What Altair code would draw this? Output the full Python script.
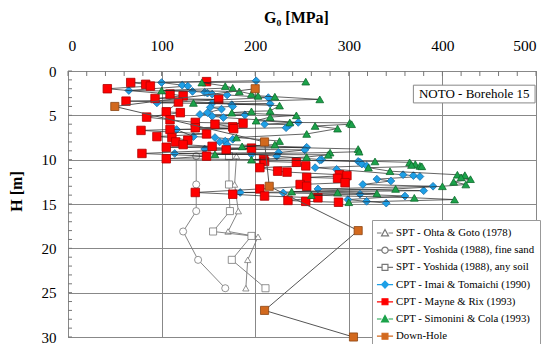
import altair as alt
import pandas as pd

# ---------------- data ----------------
series_names = [
    "SPT - Ohta & Goto (1978)",
    "SPT - Yoshida (1988), fine sand",
    "SPT - Yoshida (1988), any soil",
    "CPT - Imai & Tomaichi (1990)",
    "CPT - Mayne & Rix (1993)",
    "CPT - Simonini & Cola (1993)",
    "Down-Hole",
]

# SPT - Ohta & Goto (open triangles)
H_og = [9.6, 12.8, 15.8, 18.1, 18.7, 21.3, 24.5]
G_og = [180, 178, 182, 171, 203, 192, 190]
# SPT - Yoshida fine sand (open circles)
H_yf = [9.6, 12.8, 15.8, 18.1, 21.3, 24.5]
G_yf = [137, 137, 137, 123, 139, 168]
# SPT - Yoshida any soil (open squares)
H_ya = [9.6, 12.8, 15.8, 18.1, 18.6, 21.3, 24.5]
G_ya = [172, 172, 173, 155, 196, 175, 211]

# CPT - Imai & Tomaichi (blue diamonds)
H_it = [1.1, 1.3, 1.6, 1.7, 2.2, 2.3, 2.4, 2.5, 2.6, 2.7, 3.0, 3.6, 3.65, 3.7, 3.8,
        4.0, 4.1, 4.3, 4.7, 4.9, 4.95, 5.1, 5.25, 5.8, 6.0, 6.05, 6.4, 6.6, 7.4, 7.5,
        7.7, 7.9, 8.0, 8.3, 8.6, 8.8, 8.9, 9.2, 9.3, 9.4, 9.6, 10.0, 10.05, 10.2, 10.3,
        10.5, 10.7, 10.9, 11.1, 11.7, 11.8, 11.9, 12.2, 12.4, 12.8, 13.0, 13.3, 13.5,
        13.7, 13.75, 13.9, 14.1, 14.5, 14.7, 14.9]
G_it = [201, 100, 122, 128, 65, 133, 146, 149, 154, 170, 214, 95, 154, 216, 175,
        176, 152, 164, 149, 141, 189, 154, 166, 246, 210, 237, 233, 116, 134, 157,
        176, 168, 162, 170, 255, 146, 253, 225, 114, 196, 223, 271, 269, 310, 312,
        314, 319, 264, 287, 358, 369, 376, 330, 345, 315, 390, 267, 380,
        184, 230, 312, 360, 299, 319, 340]

# CPT - Mayne & Rix (red squares)
H_mr = [1.2, 1.3, 1.5, 1.7, 2.0, 2.6, 2.8, 3.1, 3.2, 3.4, 3.5, 4.6, 4.7, 5.2, 5.5,
        5.8, 5.9, 6.0, 6.3, 6.4, 6.5, 6.6, 6.7, 7.1, 7.4, 7.5, 7.8, 8.0, 8.3, 8.5,
        8.6, 8.7, 8.9, 9.3, 9.6, 9.9, 10.0, 10.2, 10.3, 10.7, 10.9, 11.3, 11.4, 11.7,
        11.8, 12.0, 12.1, 12.6, 12.8, 13.0, 13.3, 13.7, 13.9, 14.1, 14.3, 14.6, 14.7, 14.8]
G_mr = [148, 67, 83, 88, 42, 109, 123, 93, 161, 62, 118, 105, 120, 84, 109,
        136, 187, 157, 176, 136, 177, 109, 78, 148, 95, 111, 128, 115, 123, 154,
        105, 196, 169, 79, 148, 105, 209, 210, 244, 254, 205, 224, 234, 290,
        298, 255, 288, 296, 248, 255, 205, 136, 176, 210, 267, 235, 254, 289]

# CPT - Simonini & Cola (green triangles)
H_sc = [1.2, 1.3, 1.7, 1.9, 2.2, 2.3, 2.6, 2.8, 2.9, 3.2, 3.6, 3.9, 4.5, 4.55, 4.7,
        5.0, 5.2, 5.6, 5.8, 5.85, 6.0, 6.2, 6.5, 7.1, 7.5, 7.9, 8.3, 8.5, 8.8, 9.1,
        9.2, 9.4, 9.45, 9.7, 10.0, 10.2, 10.3, 10.5, 10.6, 10.7, 10.75, 10.9, 11.3,
        11.7, 11.75, 12.0, 12.2, 12.5, 12.8, 13.0, 13.3, 13.6, 13.7, 13.8, 14.0,
        14.3, 14.5, 14.8]
G_sc = [254, 143, 168, 176, 100, 183, 196, 203, 221, 269, 134, 226, 216, 196, 175,
        244, 216, 201, 237, 301, 303, 264, 288, 255, 180, 226, 221, 186, 310, 311,
        280, 157, 278, 255, 196, 328, 365, 371, 367, 376, 378, 321, 344,
        416, 424, 420, 430, 412, 425, 400, 350, 239, 288, 330, 260,
        370, 413, 300]

# Down-Hole (orange squares)
H_dh = [2.0, 4.0, 8.0, 13.0, 18.0, 27.0, 30.0]
G_dh = [200, 50, 210, 215, 310, 210, 305]

box_label = ["NOTO - Borehole 15"]
x_ticks = [0, 100, 200, 300, 400, 500]
y_ticks = [0, 5, 10, 15, 20, 25, 30]
x_minor = list(range(0, 501, 20))
y_minor = list(range(0, 31, 1))

series_data = [
    (H_og, G_og), (H_yf, G_yf), (H_ya, G_ya),
    (H_it, G_it), (H_mr, G_mr), (H_sc, G_sc), (H_dh, G_dh),
]

styles = [
    dict(shape="triangle-up", fill="white", stroke="#777777", size=40, line="#777777", lw=0.9),
    dict(shape="circle", fill="white", stroke="#777777", size=50, line="#777777", lw=0.9),
    dict(shape="square", fill="white", stroke="#777777", size=50, line="#777777", lw=0.9),
    dict(shape="diamond", fill="#1E9FE6", stroke="#1B6FA8", size=60, line="#222222", lw=0.7),
    dict(shape="square", fill="#FF0000", stroke="#B00000", size=72, line="#222222", lw=0.7),
    dict(shape="triangle-up", fill="#1BA24A", stroke="#0E6B2C", size=60, line="#222222", lw=0.7),
    dict(shape="square", fill="#D2691E", stroke="#8B4513", size=66, line="#555555", lw=1.0),
]

legend_paths = [
    "M-1.15,0H-0.5M0.5,0H1.15M0,-0.5L0.5,0.42H-0.5Z",
    "M-1.15,0H-0.45M0.45,0H1.15M-0.45,0A0.45,0.45 0 1,0 0.45,0A0.45,0.45 0 1,0 -0.45,0Z",
    "M-1.15,0H-0.42M0.42,0H1.15M-0.42,-0.42H0.42V0.42H-0.42Z",
    "M-1.15,0H-0.5M0.5,0H1.15M-0.5,0L0,-0.5L0.5,0L0,0.5Z",
    "M-1.15,0H-0.42M0.42,0H1.15M-0.42,-0.42H0.42V0.42H-0.42Z",
    "M-1.15,0H-0.5M0.5,0H1.15M0,-0.5L0.5,0.42H-0.5Z",
    "M-1.15,0H-0.42M0.42,0H1.15M-0.42,-0.42H0.42V0.42H-0.42Z",
]
legend_fill = ["white", "white", "white", "#1E9FE6", "#FF0000", "#1BA24A", "#D2691E"]
legend_stroke = ["#777777", "#777777", "#777777", "#1E9FE6", "#FF0000", "#1BA24A", "#D2691E"]

# ---------------- chart ----------------
SERIF = "Liberation Serif"

x_axis = alt.Axis(
    orient="top", values=x_ticks, grid=True, ticks=False, domain=False,
    labelPadding=18, labelFont=SERIF, labelFontSize=15.5, labelColor="black",
    title="G\u2080 [MPa]", titleFont=SERIF, titleFontSize=16, titleFontWeight="bold",
    titleColor="black", titleX=228, titleY=-46, titleAlign="center", titleBaseline="bottom",
    gridColor="#888888", gridWidth=1, gridOpacity=1,
)
y_axis = alt.Axis(
    values=y_ticks, grid=True, ticks=False, domain=False, labelPadding=12,
    labelFont=SERIF, labelFontSize=15, labelColor="black",
    title="H [m]", titleFont=SERIF, titleFontSize=16, titleFontWeight="bold",
    titleColor="black", titleX=-44, titleY=120, titleAlign="center", titleAngle=-90,
    gridColor="#888888", gridWidth=1, gridOpacity=1,
)
x_enc = alt.X("G:Q", scale=alt.Scale(domain=[0, 500], nice=False, zero=False), axis=x_axis)
y_enc = alt.Y("H:Q", scale=alt.Scale(domain=[0, 30], reverse=True, nice=False, zero=False), axis=y_axis)

layers = []

# minor ticks (inward)
minor_x = pd.DataFrame({"G": x_minor})
minor_y = pd.DataFrame({"H": y_minor})
layers.append(
    alt.Chart(minor_x).mark_rule(color="#777777", strokeWidth=1).encode(
        x=x_enc, y=alt.value(0), y2=alt.value(5)
    )
)
layers.append(
    alt.Chart(minor_y).mark_rule(color="#777777", strokeWidth=1).encode(
        y=y_enc, x=alt.value(0), x2=alt.value(4)
    )
)

frames = []
for name, (H, G), st in zip(series_names, series_data, styles):
    df = pd.DataFrame({"series": name, "H": H, "G": G, "i": list(range(len(H)))})
    frames.append(df)
    layers.append(
        alt.Chart(df).mark_line(color=st["line"], strokeWidth=st["lw"]).encode(
            x=x_enc, y=y_enc, order="i:Q"
        )
    )
    layers.append(
        alt.Chart(df).mark_point(
            shape=st["shape"], filled=True, fill=st["fill"], stroke=st["stroke"],
            strokeWidth=0.8, size=st["size"], opacity=1
        ).encode(x=x_enc, y=y_enc)
    )

# annotation box
box_df = pd.DataFrame({"G": [369], "G2": [499], "H": [1.6], "H2": [3.6]})
text_df = pd.DataFrame({"label": box_label, "G": [434], "H": [2.65]})
layers.append(
    alt.Chart(box_df).mark_rect(fill="white", stroke="#888888", strokeWidth=1).encode(
        x=x_enc, x2="G2:Q", y=y_enc, y2="H2:Q",
    )
)
layers.append(
    alt.Chart(text_df).mark_text(font=SERIF, fontSize=13, color="black", align="center",
                                 baseline="middle").encode(
        x=x_enc, y=y_enc, text="label:N"
    )
)

# legend-only layer (invisible marks)
legend_df = pd.concat([f.head(1) for f in frames], ignore_index=True)
leg = alt.Legend(
    title=None, orient="none", legendX=304, legendY=149, labelFont=SERIF,
    labelFontSize=10.8, labelColor="black", labelLimit=400, symbolSize=196,
    symbolStrokeWidth=1.2, symbolOpacity=1, fillColor="white", strokeColor="#999999",
    padding=5, rowPadding=3.2, labelOffset=3, cornerRadius=0,
)
layers.append(
    alt.Chart(legend_df).mark_point(filled=True, opacity=0).encode(
        x=x_enc, y=y_enc,
        shape=alt.Shape("series:N", scale=alt.Scale(domain=series_names, range=legend_paths), legend=leg),
        fill=alt.Fill("series:N", scale=alt.Scale(domain=series_names, range=legend_fill), legend=leg),
        stroke=alt.Stroke("series:N", scale=alt.Scale(domain=series_names, range=legend_stroke), legend=leg),
    )
)

chart = alt.layer(*layers).properties(
    width=468, height=266,
    background="white",
    autosize=alt.AutoSizeParams(type="none"),
    padding={"left": 60, "top": 63, "right": 5, "bottom": 7},
).configure_axis(
    labelFont=SERIF, labelColor="black",
    titleFont=SERIF, titleFontWeight="bold", titleColor="black",
).configure_view(
    stroke="#888888", strokeWidth=1
)

chart.save("out.html", embed_options={"renderer": "svg", "actions": False})
